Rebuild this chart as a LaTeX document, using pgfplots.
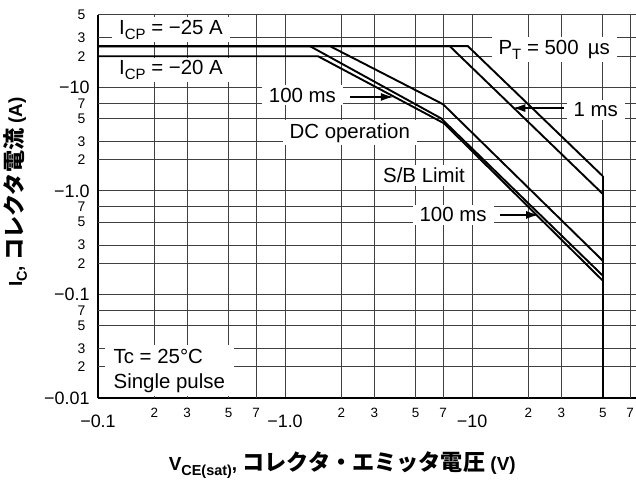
\documentclass[border=0pt]{standalone}
\usepackage{fontspec}
\setmainfont{Liberation Sans}
\newfontfamily\cjk{Noto Sans CJK JP}[Scale=1.17]
\usepackage{pgfplots}
\pgfplotsset{compat=1.18}
\usetikzlibrary{arrows.meta}
\newcommand{\lsub}[1]{\raisebox{-0.22em}{\fontsize{15}{15}\selectfont #1}}
\newcommand{\bsub}[1]{\raisebox{-0.25em}{\fontsize{14.5}{14.5}\selectfont #1}}
\begin{document}
\begin{tikzpicture}
\begin{axis}[
  name=ax,
  xmode=log, ymode=log,
  scale only axis,
  width=538bp, height=383bp,
  xmin=0.1, xmax=75.3, ymin=0.01, ymax=50,
  axis x line*=bottom, axis y line*=left,
  axis line style={-, line width=2bp, black},
  xminorticks=false, yminorticks=false,
  major tick length=0pt,
  xtick={0.1,1,10}, xticklabels={−0.1,−1.0,−10},
  ytick={0.01,0.1,1,10}, yticklabels={−0.01,−0.1,−1.0,−10},
  extra x ticks={0.2,0.3,0.5,0.7,2,3,5,7,20,30,50,70},
  extra x tick labels={2,3,5,7,2,3,5,7,2,3,5,7},
  extra y ticks={0.02,0.03,0.05,0.07,0.2,0.3,0.5,0.7,2,3,5,7,20,30,50},
  extra y tick labels={2,3,5,7,2,3,5,7,2,3,5,7,2,3,5},
  grid=major,
  major grid style={line width=1bp, black!75},
  xticklabel style={font=\fontsize{18}{18}\selectfont, anchor=center, yshift=-23bp},
  yticklabel style={font=\fontsize{18}{18}\selectfont, anchor=east, xshift=-5bp},
  extra x tick style={grid=major, xticklabel style={font=\fontsize{13.5}{13.5}\selectfont, yshift=8bp}},
  extra y tick style={grid=major, yticklabel style={font=\fontsize{14}{14}\selectfont, xshift=-4bp}},
  clip=false,
]
% annotation boxes (drawn first so that the curves stay on top)
\tikzset{lab/.style={fill=white, inner xsep=7bp, inner ysep=3bp, font=\fontsize{20.5}{24}\selectfont}}
\node[lab] at (axis description cs:0.1357,0.961) {I\lsub{CP} = −25 A};
\node[lab] at (axis description cs:0.1357,0.8564) {I\lsub{CP} = −20 A};
\node[lab] at (axis description cs:0.380,0.791) {100 ms};
\node[lab] at (axis description cs:0.468,0.692) {DC operation};
\node[lab] at (axis description cs:0.606,0.582) {S/B Limit};
\node[lab] at (axis description cs:0.660,0.478) {100 ms};
\node[lab] at (axis description cs:0.848,0.909) {P\lsub{T} = 500\hspace{0.45em}µs};
\node[lab] at (axis description cs:0.925,0.752) {1 ms};
\node[lab, anchor=south west, align=left, inner xsep=9bp, inner ysep=4bp, font=\fontsize{20.5}{25}\selectfont] at (axis description cs:0.012,0.004) {Tc = 25°C\\Single pulse};

% 500 us
\addplot[black, line width=1.9bp] coordinates {(0.1,25) (9.5,25) (50,1.39)};
% 1 ms
\addplot[black, line width=1.9bp] coordinates {(0.1,25) (7.6,25) (50,0.936)};
% upper S/B curve
\addplot[black, line width=1.9bp] coordinates {(0.1,25) (1.74,25) (7.0,6.87) (50,0.212)};
% 100 ms
\addplot[black, line width=1.9bp] coordinates {(0.1,25) (1.36,25) (6.82,5.03) (50,0.152)};
% DC
\addplot[black, line width=1.9bp] coordinates {(0.1,20) (1.50,20) (7.08,4.50) (50,0.136)};
% V_CEO limit
\addplot[black, line width=2.3bp] coordinates {(50,1.39) (50,0.01)};

% arrows
\draw[black, line width=2bp, -{Latex[length=13bp,width=8bp]}] (axis description cs:0.468,0.786) -- (axis description cs:0.550,0.786);
\draw[black, line width=2bp, -{Latex[length=13bp,width=8bp]}] (axis description cs:0.747,0.478) -- (axis description cs:0.820,0.478);
\draw[black, line width=2bp, -{Latex[length=13bp,width=8bp]}] (axis description cs:0.866,0.757) -- (axis description cs:0.770,0.757);

% axis titles
\node[rotate=90, font=\fontsize{19}{19}\selectfont\bfseries] at (axis description cs:-0.154,0.538) {I\bsub{C}, {\cjk コレクタ電流} (A)};
\node[font=\fontsize{19}{19}\selectfont\bfseries] at (axis description cs:0.454,-0.175) {V\bsub{CE(sat)}, {\cjk コレクタ・エミッタ電圧} (V)};
\end{axis}
\pgfresetboundingbox
\path[use as bounding box] ([xshift=-98bp,yshift=-87bp]ax.south west) rectangle ([yshift=15bp]ax.north east);
\end{tikzpicture}
\end{document}
